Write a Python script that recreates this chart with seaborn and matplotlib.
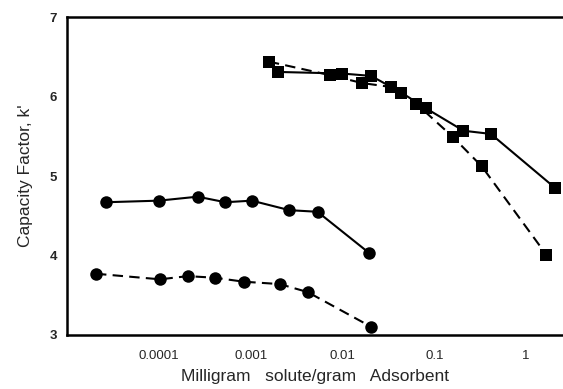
import numpy as np
import pandas as pd
import seaborn as sns
import matplotlib
matplotlib.use("Agg")
import matplotlib.pyplot as plt
from matplotlib.ticker import LogLocator, FixedLocator, FixedFormatter, MultipleLocator

# Loading (mg solute / g adsorbent) and capacity factor k'
circ_solid_x = [2.65e-5, 1.0e-4, 2.65e-4, 5.3e-4, 1.03e-3, 2.65e-3, 5.35e-3, 0.0196]
circ_solid_y = [4.67, 4.69, 4.74, 4.67, 4.69, 4.57, 4.55, 4.03]

circ_dash_x = [2.07e-5, 1.03e-4, 2.07e-4, 4.06e-4, 8.4e-4, 2.07e-3, 4.17e-3, 0.0207]
circ_dash_y = [3.77, 3.70, 3.74, 3.72, 3.67, 3.64, 3.54, 3.10]

sq_solid_x = [1.98e-3, 9.93e-3, 0.0205, 0.0438, 0.0818, 0.208, 0.413, 2.07]
sq_solid_y = [6.31, 6.29, 6.26, 6.05, 5.85, 5.57, 5.53, 4.85]

sq_dash_x = [1.58e-3, 7.28e-3, 0.0164, 0.0341, 0.0637, 0.160, 0.330, 1.66]
sq_dash_y = [6.44, 6.27, 6.17, 6.12, 5.91, 5.49, 5.12, 4.01]

x_ticks = [1e-4, 1e-3, 1e-2, 1e-1, 1]
x_tick_labels = ["0.0001", "0.001", "0.01", "0.1", "1"]
y_ticks = [3, 4, 5, 6, 7]

sns.set_style("white")
plt.rcParams["font.family"] = ["Liberation Sans", "DejaVu Sans"]

fig = plt.figure(figsize=(5.63, 3.89), dpi=100)
ax = fig.add_axes([0.119, 0.139, 0.881, 0.817])

series = [
    (circ_solid_x, circ_solid_y, "o", 9.0, "-"),
    (circ_dash_x, circ_dash_y, "o", 9.0, "--"),
    (sq_solid_x, sq_solid_y, "s", 8.5, "-"),
    (sq_dash_x, sq_dash_y, "s", 8.5, "--"),
]
for xs, ys, mk, ms, ls in series:
    df = pd.DataFrame({"x": xs, "y": ys})
    sns.lineplot(data=df, x="x", y="y", ax=ax, color="black",
                 marker=mk, markersize=ms, markeredgewidth=0,
                 linewidth=1.5, sort=False)
    ln = ax.lines[-1]
    if ls == "--":
        ln.set_dashes((5, 3))

ax.set_xscale("log")
ax.set_xlim(1e-5, 10 ** 0.402)
ax.set_ylim(3, 7)

ax.xaxis.set_major_locator(FixedLocator(x_ticks))
ax.xaxis.set_major_formatter(FixedFormatter(x_tick_labels))
ax.xaxis.set_minor_locator(LogLocator(base=10, subs=np.arange(2, 10)))
ax.yaxis.set_major_locator(FixedLocator(y_ticks))
ax.yaxis.set_minor_locator(MultipleLocator(0.5))

ax.tick_params(axis="both", which="major", direction="in", length=5, width=1.2,
               labelsize=9.5, pad=7, color="black")
ax.tick_params(axis="both", which="minor", direction="in", length=2.5, width=0.8,
               color="black")
ax.tick_params(axis="x", which="major", pad=11)
for lab in ax.get_yticklabels():
    lab.set_fontweight("bold")

for side in ["left", "bottom", "top"]:
    ax.spines[side].set_visible(True)
    ax.spines[side].set_color("black")
    ax.spines[side].set_linewidth(1.8)
ax.spines["right"].set_visible(False)

ax.set_xlabel("Milligram   solute/gram   Adsorbent", fontsize=12.5, labelpad=5)
ax.set_ylabel("Capacity Factor, k'", fontsize=12.5, labelpad=12)

fig.savefig("out.png", dpi=100)
